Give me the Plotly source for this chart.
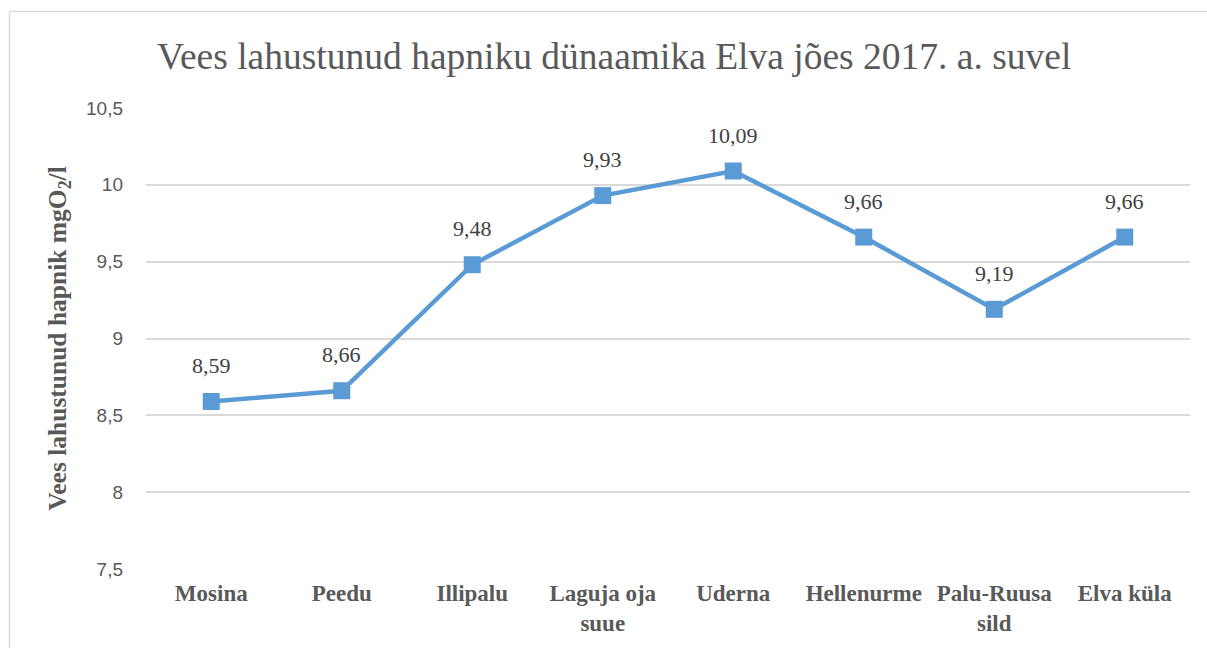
import plotly.graph_objects as go

categories = ["Mosina", "Peedu", "Illipalu", "Laguja oja<br>suue", "Uderna",
              "Hellenurme", "Palu-Ruusa<br>sild", "Elva küla"]
oxygen = [8.59, 8.66, 9.48, 9.93, 10.09, 9.66, 9.19, 9.66]
y_ticks = [7.5, 8, 8.5, 9, 9.5, 10, 10.5]
y_tick_labels = ["7,5", "8", "8,5", "9", "9,5", "10", "10,5"]

title_text = "Vees lahustunud hapniku dünaamika Elva jões 2017. a. suvel"
y_title = "Vees lahustunud hapnik mgO<sub>2</sub>/l"

W, H = 1207, 648
ML, MR, MT, MB = 146, 17, 108, 79
pw, ph = W - ML - MR, H - MT - MB

def px_x(p):
    return (p - ML) / pw

def px_y(p):
    return (H - MB - p) / ph

fig = go.Figure()
fig.add_trace(go.Scatter(
    x=list(range(len(categories))), y=oxygen, mode="lines+markers",
    line=dict(color="#5B9BD5", width=4.5),
    marker=dict(symbol="square", size=17, color="#5B9BD5"),
    hoverinfo="skip", showlegend=False,
))

annotations = []
for i, v in enumerate(oxygen):
    annotations.append(dict(
        x=i, y=v, xref="x", yref="y", text=f"{v:.2f}".replace(".", ","),
        showarrow=False, yshift=36, yanchor="middle",
        font=dict(family="Liberation Serif", size=22, color="#404040"),
    ))

annotations.append(dict(
    x=px_x(614), y=px_y(56), xref="paper", yref="paper", text=title_text,
    showarrow=False, xanchor="center", yanchor="middle",
    font=dict(family="Liberation Serif", size=37.5, color="#595959"),
))

fig.update_layout(
    width=W, height=H,
    margin=dict(l=ML, r=MR, t=MT, b=MB, autoexpand=False),
    paper_bgcolor="white", plot_bgcolor="white",
    annotations=annotations,
    shapes=[
        dict(type="line", xref="paper", yref="paper",
             x0=px_x(9.5), x1=px_x(1215), y0=px_y(11.5), y1=px_y(11.5),
             line=dict(color="#d9d9d9", width=1.5)),
        dict(type="line", xref="paper", yref="paper",
             x0=px_x(9.5), x1=px_x(9.5), y0=px_y(11.5), y1=px_y(660),
             line=dict(color="#d9d9d9", width=1.5)),
    ],
    xaxis=dict(
        range=[-0.5, len(categories) - 0.5],
        tickmode="array", tickvals=list(range(len(categories))),
        ticktext=[f"<b>{c}</b>" for c in categories],
        showgrid=False, showline=False, zeroline=False, ticks="",
        tickfont=dict(family="Liberation Serif", size=23, color="#595959"),
        ticklabelstandoff=8,
    ),
    yaxis=dict(
        range=[7.5, 10.5], tickmode="array", tickvals=y_ticks,
        ticktext=y_tick_labels,
        showgrid=True, gridcolor="#d9d9d9", gridwidth=1.5,
        zeroline=False, showline=False, ticks="",
        tickfont=dict(family="Liberation Sans", size=19, color="#595959"),
        ticklabelstandoff=22,
        title=dict(text="<b>" + y_title + "</b>", standoff=12,
                   font=dict(family="Liberation Serif", size=25.5, color="#595959")),
    ),
)

fig.write_html("out.html")
